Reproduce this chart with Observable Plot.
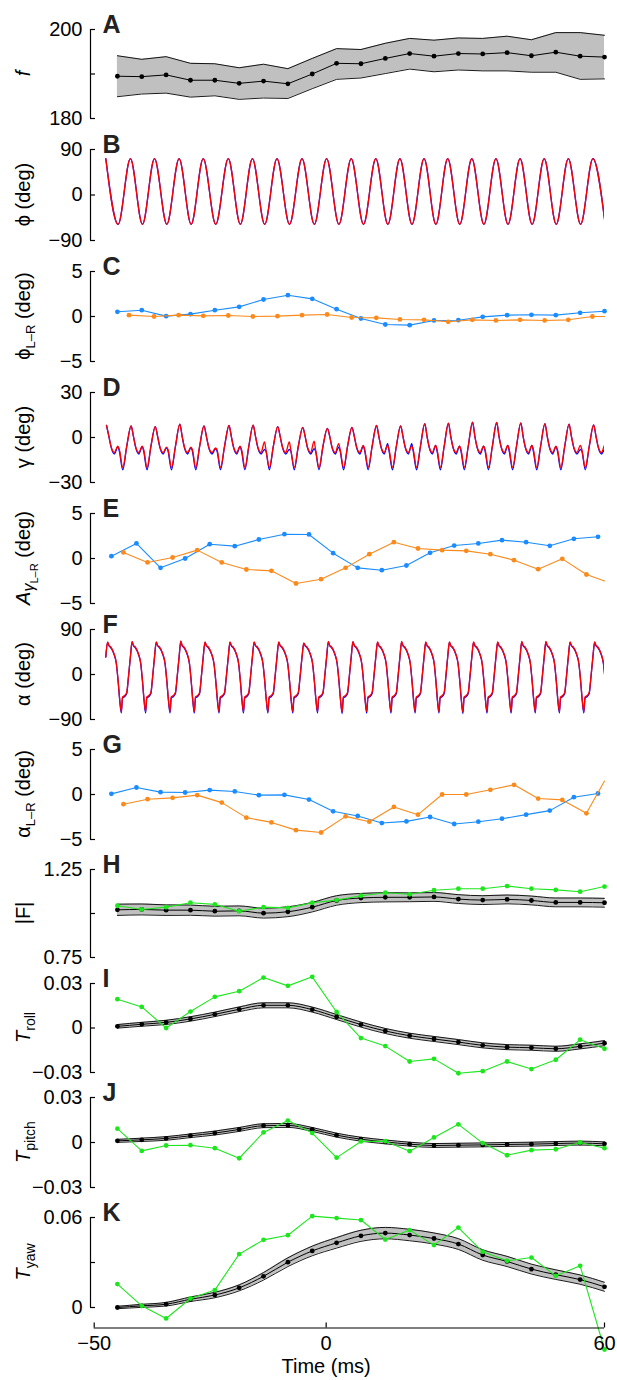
<!DOCTYPE html>
<html>
<head>
<meta charset="utf-8">
<script src="https://cdn.jsdelivr.net/npm/d3@7"></script>
<script src="https://cdn.jsdelivr.net/npm/@observablehq/plot@0.6"></script>
<style>
html,body{margin:0;padding:0;background:#fff;}
#chart{position:relative;width:617px;height:1380px;overflow:hidden;background:#fff;}
#chart svg{position:absolute;left:0;}
</style>
</head>
<body>
<div id="chart"></div>
<script>
// ================= DATA =================
// shared time axis (ms)
const xDomain = [-50.8, 60];
const xTicks = [-50, 0, 60];
const xTickLabels = ["\u221250", "0", "60"];
const xTitle = "Time (ms)";

// one sample per wingbeat
const tBeat = [-45, -39.75, -34.5, -29.25, -24, -18.75, -13.5, -8.25, -3, 2.25, 7.5, 12.75, 18, 23.25, 28.5, 33.75, 39, 44.25, 49.5, 54.75, 60];

// A: wingbeat frequency
const fMean = [189.5, 189.4, 189.8, 188.6, 188.6, 187.9, 188.4, 187.8, 190.0, 192.4, 192.3, 193.5, 194.6, 194.0, 194.6, 194.5, 194.8, 194.1, 194.9, 194.0, 193.8];
const fHi   = [194.1, 193.3, 193.9, 192.4, 192.3, 191.4, 192.2, 191.2, 193.5, 195.7, 195.5, 196.9, 198.0, 197.6, 198.1, 198.0, 198.5, 197.7, 199.3, 199.3, 198.7];
const fLo   = [184.9, 185.5, 185.7, 184.8, 185.1, 184.3, 184.6, 184.5, 186.7, 188.8, 189.1, 190.1, 191.1, 190.5, 190.9, 190.7, 190.7, 190.4, 190.4, 188.8, 188.9];

// start time of each stroke cycle (dorsal stroke reversal)
const strokeStart = [-47.5, -42.2, -37.0, -31.7, -26.5, -21.1, -15.9, -10.6, -5.2, 0.1, 5.4, 10.7, 15.9, 21.1, 26.2, 31.4, 36.6, 41.8, 47.0, 52.2, 57.5];

// B: stroke angle phi, extremes per cycle
const phiPhase = [0, 0.5];
const phiMax = [72, 72, 72, 72, 72, 72, 72, 72, 72, 72, 72, 72, 72, 72, 72, 72, 72, 72, 72, 72, 72];
const phiMin = [-58, -58, -58, -58, -58, -58, -58, -58, -58, -58, -58, -58, -58, -58, -58, -58, -58, -58, -58, -58, -58];

// C: phi L-R
const phiLRBlue = [0.52, 0.70, 0.04, 0.26, 0.70, 1.07, 1.89, 2.37, 1.96, 0.81, -0.22, -0.89, -0.96, -0.44, -0.41, -0.04, 0.15, 0.19, 0.15, 0.41, 0.59];
const tUpC = [-42.5, -37.1, -31.8, -26.5, -21.1, -15.8, -10.5, -5.2, 0.2, 5.5, 10.8, 15.9, 21.1, 26.3, 31.5, 36.6, 41.8, 47.1, 52.2, 57.4, 60];
const phiLROrange = [0.15, 0, 0.15, 0.07, 0.11, 0, 0.04, 0.15, 0.22, -0.11, -0.15, -0.33, -0.37, -0.59, -0.37, -0.44, -0.37, -0.44, -0.37, 0, 0];

// D: deviation gamma, cycle shape (phase of cycle -> value)
const gammaPhase     = [0.03, 0.13, 0.22, 0.35, 0.49, 0.55, 0.69, 0.85];
const gammaShapeRed  = [null, 0.4, -6.3, -10.0, null, -8.0, -20.0, -6.0];
const gammaShapeBlue = [null, 0.4, -6.8, -11.0, null, -9.0, -21.5, -6.0];
const gammaPeak      = [8.0, 7.7, 7.3, 8.9, 7.7, 8.0, 8.2, 7.3, 6.8, 6.1, 6.8, 8.0, 7.7, 9.3, 9.5, 10.2, 10.0, 9.8, 9.3, 8.9, 8.4];
const gammaBumpRed   = [-5.7, -5.7, -6.4, -6.4, -7.0, -5.7, -3.0, -3.0, -2.5, -4.1, -5.2, -5.2, -5.7, -5.2, -5.7, -5.7, -5.2, -5.2, -5.7, -5.2, -4.8];
const gammaBumpBlue  = [-6.1, -6.1, -6.8, -6.8, -7.5, -6.1, -8.0, -8.0, -7.5, -6.4, -5.7, -4.1, -4.1, -5.2, -5.7, -5.7, -5.2, -5.2, -6.1, -8.0, -7.5];

// E: gamma amplitude L-R
const tDown = [-46.3, -40.9, -35.7, -30.4, -25.1, -19.7, -14.5, -9.0, -3.7, 1.5, 6.8, 12.0, 17.3, 22.4, 27.6, 32.8, 37.9, 43.1, 48.2, 53.4, 58.6];
const tUp   = [-43.7, -38.5, -33.1, -27.8, -22.5, -17.2, -11.8, -6.5, -1.1, 4.2, 9.3, 14.6, 19.8, 25.0, 30.2, 35.4, 40.5, 45.7, 50.9, 56.1, 60];
const ampLRBlue   = [0.26, 1.67, -1.04, 0, 1.59, 1.37, 2.11, 2.70, 2.67, 0.59, -1.04, -1.30, -0.78, 0.63, 1.44, 1.67, 2.04, 1.81, 1.41, 2.19, 2.41];
const ampLROrange = [0.67, -0.44, 0.11, 0.93, -0.44, -1.22, -1.37, -2.78, -2.30, -1.04, 0.48, 1.81, 1.11, 0.93, 0.85, 0.48, -0.19, -1.19, -0.04, -1.78, -2.5];

// F: rotation alpha, cycle shape
const alphaPhase     = [0.00, 0.07, 0.13, 0.20, 0.33, 0.43, 0.50, 0.57, 0.63, 0.68, 0.77, 0.85, 0.92];
const alphaShapeRed  = [35, null, 58, 55, 42, 22, -12, -52, null, -45, -42, -36, -5];
const alphaShapeBlue = [35, null, 57, 54, 41, 21, -13, -54, null, -47, -44, -38, -6];
const alphaPeak   = [65, 66, 65, 67, 65, 65, 65, 65, 63, 66, 66, 65, 66, 65, 65, 65, 65, 66, 66, 65, 65];
const alphaTrough = [-74, -74, -74, -74, -74, -74, -74, -74, -74, -75, -74, -74, -74, -74, -75, -74, -74, -74, -74, -74, -74];

// G: alpha L-R
const alphaLRBlue   = [0.07, 0.78, 0.26, 0.22, 0.49, 0.34, -0.07, -0.04, -0.56, -1.87, -2.39, -3.17, -2.99, -2.50, -3.28, -3.02, -2.69, -2.24, -1.79, -0.30, 0.11];
const alphaLROrange = [-1.08, -0.52, -0.37, -0.07, -0.90, -2.57, -3.10, -3.96, -4.22, -2.43, -3.02, -1.38, -2.24, 0, 0, 0.52, 1.08, -0.45, -0.60, -2.09, 1.49];

// H: |F|
const meanH  = [1.021, 1.023, 1.019, 1.019, 1.013, 1.015, 1.002, 1.010, 1.036, 1.074, 1.088, 1.092, 1.092, 1.094, 1.082, 1.076, 1.080, 1.074, 1.063, 1.063, 1.061];
const errH   = [0.032, 0.031, 0.030, 0.029, 0.028, 0.028, 0.028, 0.028, 0.027, 0.027, 0.026, 0.026, 0.025, 0.025, 0.025, 0.025, 0.025, 0.025, 0.025, 0.025, 0.025];
const greenH = [1.044, 1.023, 1.036, 1.061, 1.052, 1.013, 1.036, 1.032, 1.061, 1.076, 1.101, 1.118, 1.109, 1.132, 1.141, 1.141, 1.156, 1.141, 1.134, 1.124, 1.153];

// I: T roll
const meanI  = [0.0011, 0.0025, 0.0038, 0.0061, 0.0092, 0.0126, 0.0153, 0.0153, 0.0124, 0.0074, 0.0023, -0.0020, -0.0052, -0.0074, -0.0095, -0.0117, -0.0129, -0.0133, -0.0140, -0.0124, -0.0102];
const errI   = [0.0012, 0.0013, 0.0014, 0.0015, 0.0015, 0.0016, 0.0017, 0.0017, 0.0017, 0.0017, 0.0017, 0.0017, 0.0017, 0.0017, 0.0017, 0.0017, 0.0017, 0.0017, 0.0017, 0.0017, 0.0017];
const greenI = [0.0194, 0.0142, 0, 0.0111, 0.0210, 0.0248, 0.0340, 0.0284, 0.0345, 0.0108, -0.0068, -0.0122, -0.0226, -0.0208, -0.0305, -0.0291, -0.0226, -0.0277, -0.0214, -0.0079, -0.0140];

// J: T pitch
const meanJ  = [0.0011, 0.0018, 0.0027, 0.0045, 0.0063, 0.0087, 0.0112, 0.0114, 0.0087, 0.0049, 0.0022, 0.0004, -0.0011, -0.0020, -0.0018, -0.0016, -0.0013, -0.0011, -0.0007, -0.0004, -0.0009];
const errJ   = [0.0010, 0.0011, 0.0012, 0.0012, 0.0013, 0.0013, 0.0013, 0.0013, 0.0013, 0.0013, 0.0013, 0.0013, 0.0013, 0.0013, 0.0013, 0.0013, 0.0013, 0.0013, 0.0013, 0.0013, 0.0013];
const greenJ = [0.0092, -0.0056, -0.0020, -0.0018, -0.0038, -0.0105, 0.0067, 0.0146, 0.0063, -0.0101, 0.0007, 0.0009, -0.0058, 0.0034, 0.0121, -0.0004, -0.0085, -0.0051, -0.0045, 0.0000, -0.0038];

// K: T yaw
const meanK  = [0, 0.0011, 0.0022, 0.0055, 0.0083, 0.0131, 0.0208, 0.0302, 0.0377, 0.0431, 0.0478, 0.0496, 0.0483, 0.0460, 0.0423, 0.0350, 0.0307, 0.0256, 0.0219, 0.0186, 0.0138];
const errK   = [0.0008, 0.0010, 0.0012, 0.0015, 0.0018, 0.0020, 0.0025, 0.0029, 0.0032, 0.0035, 0.0037, 0.0038, 0.0038, 0.0037, 0.0036, 0.0035, 0.0034, 0.0033, 0.0032, 0.0031, 0.0030];
const greenK = [0.0156, 0.0011, -0.0073, 0.0060, 0.0116, 0.0356, 0.0451, 0.0482, 0.0609, 0.0596, 0.0583, 0.0453, 0.0516, 0.0416, 0.0533, 0.0371, 0.0311, 0.0333, 0.0211, 0.0278, -0.0280];

// colours
const C_BLUE = "#1a8cff", C_ORANGE = "#fb8a1c", C_GREEN = "#1ee61e", C_RED = "#ff0000", C_DBLUE = "#0000ff", C_GRAY = "#c0c0c0";

// ================= HELPERS =================
const FONT = "'Liberation Sans', Arial, Helvetica, sans-serif";
const FS = 20;
const PW = 617, ML = 90, MR = 13, MT = 26, MB = 24;
const FRAME_W = PW - ML - MR;

const pts = (ts, vs) => ts.map((t, i) => ({t, v: vs[i]}));

function cycleSeries(phases, shape, fill) {
  const out = [];
  strokeStart.forEach((s, i) => {
    const next = i + 1 < strokeStart.length ? strokeStart[i + 1] : s + (s - strokeStart[i - 1]);
    const p = next - s;
    phases.forEach((ph, k) => {
      const v = shape[k] == null ? fill(i, k) : shape[k];
      out.push({t: s + ph * p, v});
    });
  });
  return out;
}

const phiRed = cycleSeries(phiPhase, [null, null], (i, k) => k === 0 ? phiMax[i] : phiMin[i]);
const gammaRed = cycleSeries(gammaPhase, gammaShapeRed, (i, k) => k === 0 ? gammaPeak[i] : gammaBumpRed[i]);
const gammaBlue = cycleSeries(gammaPhase, gammaShapeBlue, (i, k) => k === 0 ? gammaPeak[i] : gammaBumpBlue[i]);
const alphaRed = cycleSeries(alphaPhase, alphaShapeRed, (i, k) => k === 1 ? alphaPeak[i] : alphaTrough[i]);
const alphaBlue = cycleSeries(alphaPhase, alphaShapeBlue, (i, k) => k === 1 ? alphaPeak[i] - 1 : alphaTrough[i] - 3);

function bandRows(mean, lo, hi) {
  return tBeat.map((t, i) => ({t, m: mean[i], lo: lo[i], hi: hi[i]}));
}
function bandMarks(rows, curve) {
  return [
    Plot.areaY(rows, {x: "t", y1: "lo", y2: "hi", fill: C_GRAY, curve}),
    Plot.line(rows, {x: "t", y: "hi", stroke: "black", strokeWidth: 0.9, curve}),
    Plot.line(rows, {x: "t", y: "lo", stroke: "black", strokeWidth: 0.9, curve}),
    Plot.line(rows, {x: "t", y: "m", stroke: "black", strokeWidth: 1, curve}),
    Plot.dot(rows, {x: "t", y: "m", r: 2.4, fill: "black"})
  ];
}
function seriesMarks(data, color, openEnd) {
  return [
    Plot.line(data, {x: "t", y: "v", stroke: color, strokeWidth: 1.1}),
    Plot.dot(openEnd ? data.slice(0, -1) : data, {x: "t", y: "v", r: 2.4, fill: color})
  ];
}
function waveMarks(blue, red) {
  return [
    Plot.line(blue, {x: "t", y: "v", stroke: C_DBLUE, strokeWidth: 1.3, curve: "monotone-x", clip: true}),
    Plot.line(red, {x: "t", y: "v", stroke: C_RED, strokeWidth: 1.3, curve: "monotone-x", clip: true})
  ];
}
const withErr = (mean, err, s) => mean.map((m, i) => m + s * err[i]);

// ================= PANELS =================
const panels = [
  {letter: "A", top: 29, bottom: 118, domain: [180, 200], ticks: [180, 190, 200], labels: ["180", "", "200"],
   title: [{text: "f", italic: true}],
   marks: bandMarks(bandRows(fMean, fLo, fHi), "linear")},
  {letter: "B", top: 149, bottom: 240, domain: [-90, 90], ticks: [-90, 0, 90], labels: ["\u221290", "0", "90"],
   title: [{text: "\u03d5 (deg)"}],
   marks: waveMarks(phiRed, phiRed)},
  {letter: "C", top: 271, bottom: 361, domain: [-5, 5], ticks: [-5, 0, 5], labels: ["\u22125", "0", "5"],
   title: [{text: "\u03d5"}, {text: "L\u2013R", size: 13, shift: 5}, {text: " (deg)", shift: 0}],
   marks: [...seriesMarks(pts(tBeat, phiLRBlue), C_BLUE, false), ...seriesMarks(pts(tUpC, phiLROrange), C_ORANGE, true)]},
  {letter: "D", top: 392, bottom: 482, domain: [-30, 30], ticks: [-30, 0, 30], labels: ["\u221230", "0", "30"],
   title: [{text: "\u03b3 (deg)"}],
   marks: waveMarks(gammaBlue, gammaRed)},
  {letter: "E", top: 513, bottom: 603, domain: [-5, 5], ticks: [-5, 0, 5], labels: ["\u22125", "0", "5"],
   title: [{text: "A", italic: true}, {text: "\u03b3", size: 16, shift: 4, italic: true}, {text: "L\u2013R", size: 11, shift: 8}, {text: " (deg)", shift: 0}],
   marks: [...seriesMarks(pts(tDown, ampLRBlue), C_BLUE, false), ...seriesMarks(pts(tUp, ampLROrange), C_ORANGE, true)]},
  {letter: "F", top: 629, bottom: 719, domain: [-90, 90], ticks: [-90, 0, 90], labels: ["\u221290", "0", "90"],
   title: [{text: "\u03b1 (deg)"}],
   marks: waveMarks(alphaBlue, alphaRed)},
  {letter: "G", top: 749, bottom: 839, domain: [-5, 5], ticks: [-5, 0, 5], labels: ["\u22125", "0", "5"],
   title: [{text: "\u03b1"}, {text: "L\u2013R", size: 13, shift: 5}, {text: " (deg)", shift: 0}],
   marks: [...seriesMarks(pts(tDown, alphaLRBlue), C_BLUE, false), ...seriesMarks(pts(tUp, alphaLROrange), C_ORANGE, true)]},
  {letter: "H", top: 869, bottom: 957, domain: [0.75, 1.25], ticks: [0.75, 1.0, 1.25], labels: ["0.75", "", "1.25"],
   title: [{text: "|F|"}],
   marks: [...bandMarks(bandRows(meanH, withErr(meanH, errH, -1), withErr(meanH, errH, 1)), "monotone-x"), ...seriesMarks(pts(tBeat, greenH), C_GREEN, false)]},
  {letter: "I", top: 983, bottom: 1072, domain: [-0.03, 0.03], ticks: [-0.03, 0, 0.03], labels: ["\u22120.03", "0", "0.03"],
   title: [{text: "T", italic: true}, {text: "roll", size: 14, shift: 5}],
   marks: [...bandMarks(bandRows(meanI, withErr(meanI, errI, -1), withErr(meanI, errI, 1)), "monotone-x"), ...seriesMarks(pts(tBeat, greenI), C_GREEN, false)]},
  {letter: "J", top: 1097, bottom: 1187, domain: [-0.03, 0.03], ticks: [-0.03, 0, 0.03], labels: ["\u22120.03", "0", "0.03"],
   title: [{text: "T", italic: true}, {text: "pitch", size: 14, shift: 5}],
   marks: [...bandMarks(bandRows(meanJ, withErr(meanJ, errJ, -1), withErr(meanJ, errJ, 1)), "monotone-x"), ...seriesMarks(pts(tBeat, greenJ), C_GREEN, false)]},
  {letter: "K", top: 1217, bottom: 1307, domain: [0, 0.06], ticks: [0, 0.03, 0.06], labels: ["0", "", "0.06"],
   title: [{text: "T", italic: true}, {text: "yaw", size: 14, shift: 5}],
   marks: [...bandMarks(bandRows(meanK, withErr(meanK, errK, -1), withErr(meanK, errK, 1)), "monotone-x"), ...seriesMarks(pts(tBeat, greenK), C_GREEN, false)],
   xAxis: true}
];

const chart = document.getElementById("chart");
const X_AXIS_OFFSET = 20.5;

for (const p of panels) {
  const frameH = p.bottom - p.top;
  const mb = p.xAxis ? 76 : MB;
  const H = frameH + MT + mb;
  const marks = [
    ...p.marks,
    Plot.ruleX([xDomain[0]], {stroke: "black", strokeWidth: 1.2}),
    Plot.tickY(p.ticks, {y: d => d, stroke: "black", strokeWidth: 1.2, insetRight: FRAME_W - 5}),
    Plot.text(p.ticks, {y: d => d, text: p.labels, frameAnchor: "left", textAnchor: "end", dx: -8, fontSize: FS, fill: "black"}),
    Plot.text([p.letter], {text: d => d, frameAnchor: "top-left", dx: 12, dy: 3, lineAnchor: "bottom", fontSize: 25, fontWeight: "bold", fill: "#222"})
  ];
  if (p.xAxis) {
    marks.push(
      Plot.ruleY([p.domain[0]], {x1: xTicks[0], x2: xTicks[xTicks.length - 1], dy: X_AXIS_OFFSET, stroke: "black", strokeWidth: 1.2}),
      Plot.tickX(xTicks, {x: d => d, dy: X_AXIS_OFFSET, insetTop: frameH - 5, stroke: "black", strokeWidth: 1.2}),
      Plot.text(xTicks, {x: d => d, text: xTickLabels, frameAnchor: "bottom", lineAnchor: "top", dy: X_AXIS_OFFSET + 8, fontSize: FS, fill: "black"}),
      Plot.text([xTitle], {x: () => xTicks[1], text: d => d, frameAnchor: "bottom", lineAnchor: "top", dy: X_AXIS_OFFSET + 31, fontSize: FS, fill: "black"})
    );
  }
  const svg = Plot.plot({
    width: PW, height: H,
    marginLeft: ML, marginRight: MR, marginTop: MT, marginBottom: mb,
    x: {domain: xDomain, axis: null},
    y: {domain: p.domain, axis: null},
    style: {background: "transparent", fontFamily: FONT, fontSize: FS + "px", color: "black", overflow: "visible"},
    marks
  });
  svg.style.position = "absolute";
  svg.style.left = "0px";
  svg.style.top = (p.top - MT) + "px";
  // rotated y-axis title with subscripts
  const t = d3.select(svg).append("text")
    .attr("transform", `translate(30,${MT + frameH / 2}) rotate(-90)`)
    .attr("text-anchor", "middle")
    .attr("font-family", FONT).attr("font-size", FS).attr("fill", "black");
  let cur = 0;
  for (const s of p.title) {
    const ts = t.append("tspan").text(s.text);
    if (s.italic) ts.attr("font-style", "italic");
    if (s.size) ts.attr("font-size", s.size);
    const sh = s.shift || 0;
    if (sh !== cur) { ts.attr("dy", sh - cur); cur = sh; }
  }
  chart.appendChild(svg);
}
</script>
</body>
</html>
